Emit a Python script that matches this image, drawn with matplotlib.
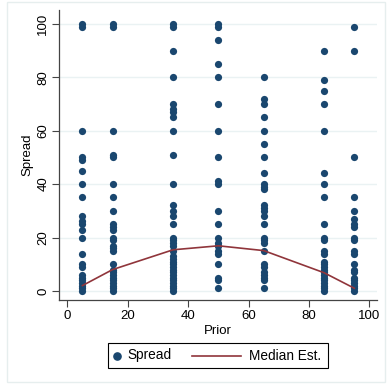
import matplotlib
matplotlib.use("Agg")
import matplotlib.pyplot as plt
from matplotlib.lines import Line2D
from matplotlib.patches import Rectangle

plt.rcParams['font.family'] = ['Liberation Sans', 'DejaVu Sans']

# Spread values for each prior
prior_levels = [5, 15, 35, 50, 65, 85, 95]
spread_p5 = [100, 99, 60, 50, 49, 45, 40, 35, 28, 26, 25, 23, 20, 14, 10, 9, 6, 5, 4, 3, 2, 1, 0]
spread_p15 = [100, 99, 60, 51, 50, 40, 35, 30, 25, 24, 23, 20, 19, 17, 16, 15, 10, 8, 7, 6, 5, 4, 3, 2, 1, 0]
spread_p35 = [100, 99, 90, 80, 70, 68, 67, 65, 60, 51, 40, 32, 30, 28, 25, 20, 19, 18, 17, 15,
              13, 12, 11, 10, 9, 8, 7, 6, 5, 4, 3, 2, 1, 0]
spread_p50 = [100, 99, 94, 85, 80, 70, 60, 50, 41, 40, 30, 25, 20, 18, 17, 15, 14, 10, 5, 4, 1]
spread_p65 = [80, 72, 70, 65, 60, 55, 50, 44, 40, 39, 38, 32, 31, 30, 28, 25, 20, 19, 18, 15,
              10, 9, 7, 6, 5, 4, 1]
spread_p85 = [90, 79, 75, 70, 60, 44, 40, 35, 25, 20, 19, 15, 14, 11, 10, 9, 8, 7, 6, 5, 4, 3, 2, 1, 0]
spread_p95 = [99, 90, 50, 35, 30, 27, 25, 24, 20, 19, 15, 14, 10, 8, 7, 5, 4, 3, 2, 1, 0]
spread_by_prior = [spread_p5, spread_p15, spread_p35, spread_p50, spread_p65, spread_p85, spread_p95]

median_est = [2, 8, 15.4, 16.9, 15.1, 6.8, 1]

x_ticks = [0, 20, 40, 60, 80, 100]
y_ticks = [0, 20, 40, 60, 80, 100]
legend_labels = ['Spread', 'Median Est.']

navy = '#1a476f'
maroon = '#90353b'
grid_c = '#eaf2f3'

W, H = 387, 385
fig = plt.figure(figsize=(W / 100, H / 100), dpi=100)
fig.patch.set_facecolor('white')


def fx(px):
    return px / W


def fy(py):
    return 1 - py / H


# outer graph-region border
fig.add_artist(Rectangle((fx(7), fy(382)), (385 - 7) / W, (382 - 2) / H,
                         transform=fig.transFigure, fill=False,
                         edgecolor='#e6eeee', linewidth=1.0))

ax = fig.add_axes([fx(59), fy(300), 318 / W, 290 / H])
ax.set_facecolor('white')

xs, ys = [], []
for p, vals in zip(prior_levels, spread_by_prior):
    xs.extend([p] * len(vals))
    ys.extend(vals)
ax.scatter(xs, ys, s=27, color=navy, linewidths=0, zorder=3)
ax.plot(prior_levels, median_est, color=maroon, linewidth=1.2, zorder=4)

ax.set_xlim(-2.75, 102.5)
ax.set_ylim(-3.4, 105.2)
ax.set_xticks(x_ticks)
ax.set_yticks(y_ticks)
ax.set_yticklabels([str(t) for t in y_ticks], rotation=90, va='center')
ax.tick_params(axis='both', labelsize=9.5, length=5, width=0.8, color='#444444', pad=2)
ax.yaxis.grid(True, color=grid_c, linewidth=1.0)
ax.set_axisbelow(True)
for s in ['top', 'right']:
    ax.spines[s].set_visible(False)
for s in ['left', 'bottom']:
    ax.spines[s].set_color('#444444')
    ax.spines[s].set_linewidth(0.9)

ax.set_xlabel('Prior', fontsize=9.5, labelpad=2)
ax.set_ylabel('Spread', fontsize=9.5, labelpad=3)

# legend (Stata-style) drawn in figure coordinates
ly = 355.5
fig.add_artist(Rectangle((fx(108), fy(368)), 220 / W, 25 / H,
                         transform=fig.transFigure, fill=True, facecolor='white',
                         edgecolor='black', linewidth=0.8))
fig.add_artist(Line2D([fx(117)], [fy(ly)], marker='o', linestyle='none',
                      color=navy, markersize=5.2, transform=fig.transFigure))
fig.text(fx(127), fy(ly), legend_labels[0], fontsize=9.8, va='center', ha='left')
fig.add_artist(Line2D([fx(192), fx(241)], [fy(ly), fy(ly)], color=maroon,
                      linewidth=1.2, transform=fig.transFigure))
fig.text(fx(249), fy(ly), legend_labels[1], fontsize=9.8, va='center', ha='left')

fig.savefig('out.png', dpi=100, facecolor='white')
